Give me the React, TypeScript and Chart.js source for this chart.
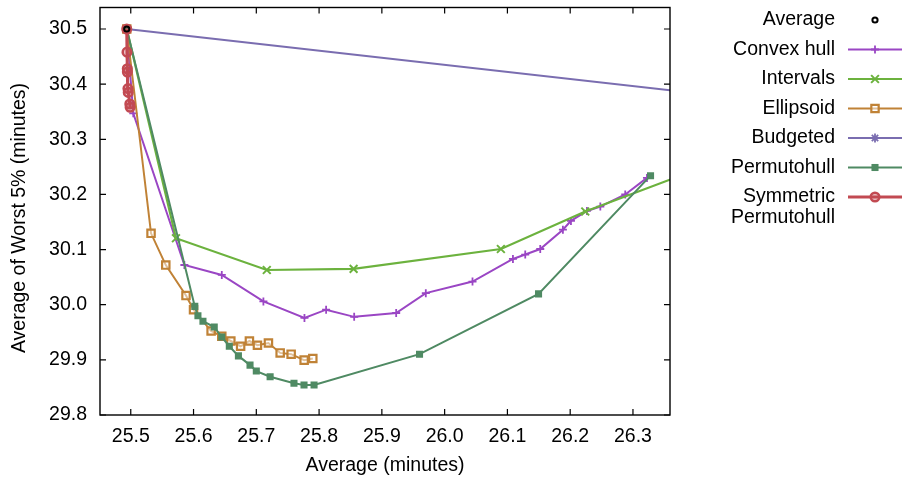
import React, { useEffect, useRef } from 'react';
import { Chart, registerables } from 'chart.js';
import { drawPoint } from 'chart.js/helpers';

Chart.register(...registerables);

// ---- tick labels ----
const xTicks = [25.5, 25.6, 25.7, 25.8, 25.9, 26.0, 26.1, 26.2, 26.3];
const yTicks = [29.8, 29.9, 30.0, 30.1, 30.2, 30.3, 30.4, 30.5];

// ---- series ----
const averageX = [25.4936];
const averageY = [30.5];

const convexX = [25.4936, 25.504, 25.5854, 25.645, 25.7113, 25.7767, 25.8112, 25.8559, 25.9228, 25.970, 26.0444, 26.1088, 26.1284, 26.1523, 26.1884, 26.2012, 26.2267, 26.248, 26.2877, 26.3223];
const convexY = [30.5, 30.347, 30.072, 30.054, 30.006, 29.976, 29.991, 29.978, 29.985, 30.021, 30.042, 30.083, 30.091, 30.101, 30.136, 30.152, 30.170, 30.178, 30.200, 30.230];

const intervalsX = [25.4936, 25.572, 25.7167, 25.855, 26.0896, 26.224, 26.5];
const intervalsY = [30.5, 30.1205, 30.063, 30.065, 30.101, 30.169, 30.287];

const ellipsoidX = [25.4936, 25.5323, 25.5558, 25.588, 25.600, 25.628, 25.645, 25.6594, 25.675, 25.689, 25.7018, 25.7193, 25.738, 25.7555, 25.7762, 25.790];
const ellipsoidY = [30.5, 30.1295, 30.0719, 30.0166, 29.9908, 29.9523, 29.9427, 29.9342, 29.9247, 29.9342, 29.9265, 29.9306, 29.9126, 29.9103, 29.8995, 29.9025];

const budgetedX = [25.4936, 26.6];
const budgetedY = [30.5, 30.358];

const permutoX = [25.4936, 25.602, 25.607, 25.615, 25.633, 25.645, 25.657, 25.6715, 25.690, 25.700, 25.722, 25.760, 25.776, 25.792, 25.960, 26.1496, 26.328];
const permutoY = [30.5, 29.997, 29.980, 29.970, 29.9595, 29.9414, 29.9247, 29.9072, 29.8905, 29.8797, 29.8694, 29.8575, 29.8544, 29.8544, 29.9103, 30.0196, 30.234];

const symX = [25.4936, 25.4940, 25.4945, 25.4946, 25.4955, 25.4960, 25.4985, 25.4990];
const symY = [30.5, 30.458, 30.428, 30.422, 30.392, 30.385, 30.364, 30.358];

const FONT_FAMILY = '"Liberation Sans", Arial, Helvetica, sans-serif';
const FONT_SIZE = 19.5;

function pts(xs: number[], ys: number[]) {
  return xs.map((x, i) => ({ x, y: ys[i] }));
}

const decorPlugin = {
  id: 'gnuplotDecor',
  afterDraw(chart: any) {
    const { ctx, chartArea: a, scales } = chart;
    ctx.save();
    // frame
    ctx.strokeStyle = '#000';
    ctx.lineWidth = 1.4;
    ctx.strokeRect(a.left, a.top, a.right - a.left, a.bottom - a.top);
    // inward ticks, mirrored
    const tl = 6;
    ctx.lineWidth = 1.2;
    ctx.beginPath();
    for (const v of xTicks) {
      const px = scales.x.getPixelForValue(v);
      ctx.moveTo(px, a.bottom); ctx.lineTo(px, a.bottom - tl);
      ctx.moveTo(px, a.top); ctx.lineTo(px, a.top + tl);
    }
    for (const v of yTicks) {
      const py = scales.y.getPixelForValue(v);
      ctx.moveTo(a.left, py); ctx.lineTo(a.left + tl, py);
      ctx.moveTo(a.right, py); ctx.lineTo(a.right - tl, py);
    }
    ctx.stroke();

    // axis titles
    ctx.font = `${FONT_SIZE}px ${FONT_FAMILY}`;
    ctx.fillStyle = '#000';
    ctx.textAlign = 'center';
    ctx.textBaseline = 'middle';
    ctx.fillText('Average (minutes)', (a.left + a.right) / 2, 466);
    ctx.save();
    ctx.translate(20, 218);
    ctx.rotate(-Math.PI / 2);
    ctx.fillText('Average of Worst 5% (minutes)', 0, 0);
    ctx.restore();

    // legend (key)
    const textRight = 835;
    const lineL = 848;
    const lineR = 906;
    const markX = 875;
    const rowY0 = 20;
    const rowStep = 29.5;
    chart.data.datasets.forEach((ds: any, i: number) => {
      const y = rowY0 + i * rowStep;
      const labels: string[] = Array.isArray(ds.keyLabel) ? ds.keyLabel : [ds.label];
      ctx.fillStyle = '#000';
      ctx.textAlign = 'right';
      ctx.textBaseline = 'middle';
      labels.forEach((t, k) => ctx.fillText(t, textRight, y + k * 21));
      if (ds.showLine) {
        ctx.strokeStyle = ds.borderColor;
        ctx.lineWidth = ds.borderWidth;
        ctx.beginPath();
        ctx.moveTo(lineL, y);
        ctx.lineTo(lineR, y);
        ctx.stroke();
      }
      ctx.strokeStyle = ds.pointBorderColor;
      ctx.fillStyle = ds.pointBackgroundColor;
      ctx.lineWidth = ds.pointBorderWidth;
      drawPoint(ctx, {
        pointStyle: ds.pointStyle,
        radius: ds.pointRadius,
        rotation: 0,
        borderWidth: ds.pointBorderWidth,
      } as any, markX, y);
    });
    ctx.restore();
  },
};

export default function App() {
  const ref = useRef<HTMLCanvasElement | null>(null);

  useEffect(() => {
    if (!ref.current) return;
    const purple = '#9a46c4';
    const green = '#6cb23e';
    const orange = '#c08236';
    const slate = '#7a6db0';
    const dgreen = '#4f8a63';
    const red = '#c24a52';

    const datasets: any[] = [
      {
        label: 'Average', data: pts(averageX, averageY), showLine: false,
        pointStyle: 'circle', pointRadius: 2.6, pointBorderWidth: 2,
        pointBorderColor: '#000', pointBackgroundColor: 'rgba(0,0,0,0)',
        borderColor: '#000', borderWidth: 0, order: 0,
      },
      {
        label: 'Convex hull', data: pts(convexX, convexY), showLine: true,
        borderColor: purple, borderWidth: 2,
        pointStyle: 'cross', pointRadius: 4, pointBorderWidth: 1.8,
        pointBorderColor: purple, pointBackgroundColor: purple, order: 6,
      },
      {
        label: 'Intervals', data: pts(intervalsX, intervalsY), showLine: true,
        borderColor: green, borderWidth: 2.2,
        pointStyle: 'crossRot', pointRadius: 5.5, pointBorderWidth: 2,
        pointBorderColor: green, pointBackgroundColor: green, order: 5,
      },
      {
        label: 'Ellipsoid', data: pts(ellipsoidX, ellipsoidY), showLine: true,
        borderColor: orange, borderWidth: 2,
        pointStyle: 'rect', pointRadius: 5.2, pointBorderWidth: 2.2,
        pointBorderColor: orange, pointBackgroundColor: 'rgba(255,255,255,0.5)', order: 4,
      },
      {
        label: 'Budgeted', data: pts(budgetedX, budgetedY), showLine: true,
        borderColor: slate, borderWidth: 2.2,
        pointStyle: 'star', pointRadius: 4.5, pointBorderWidth: 1.8,
        pointBorderColor: slate, pointBackgroundColor: slate, order: 3,
      },
      {
        label: 'Permutohull', data: pts(permutoX, permutoY), showLine: true,
        borderColor: dgreen, borderWidth: 2,
        pointStyle: 'rect', pointRadius: 5, pointBorderWidth: 0,
        pointBorderColor: dgreen, pointBackgroundColor: dgreen, order: 2,
      },
      {
        label: 'Symmetric Permutohull', keyLabel: ['Symmetric', 'Permutohull'],
        data: pts(symX, symY), showLine: true,
        borderColor: red, borderWidth: 3,
        pointStyle: 'circle', pointRadius: 4.3, pointBorderWidth: 2.5,
        pointBorderColor: red, pointBackgroundColor: 'rgba(194,74,82,0.35)', order: 1,
      },
    ];

    const tickFont = { family: FONT_FAMILY, size: FONT_SIZE };
    const zeroPad = (s: any) => { s.paddingTop = 0; s.paddingBottom = 0; s.paddingLeft = 0; s.paddingRight = 0; };

    const chart = new Chart(ref.current, {
      type: 'scatter',
      data: { datasets },
      options: {
        responsive: false,
        animation: false,
        devicePixelRatio: 1,
        layout: { padding: { left: 0, right: 232, top: 5, bottom: 0 } },
        plugins: { legend: { display: false }, tooltip: { enabled: false } },
        elements: { line: { tension: 0 } },
        scales: {
          x: {
            type: 'linear', min: 25.451, max: 26.359,
            grid: { display: false, drawTicks: false },
            border: { display: false },
            ticks: {
              font: tickFont, color: '#000', padding: 10, maxRotation: 0,
              autoSkip: false,
              callback: (v: any) => Number(v).toFixed(1),
            },
            afterBuildTicks: (s: any) => { s.ticks = xTicks.map((v) => ({ value: v })); },
            afterFit: (s: any) => { s.height = 67; zeroPad(s); },
          },
          y: {
            type: 'linear', min: 29.8, max: 30.539,
            grid: { display: false, drawTicks: false },
            border: { display: false },
            ticks: {
              font: tickFont, color: '#000', padding: 13,
              autoSkip: false,
              callback: (v: any) => Number(v).toFixed(1),
            },
            afterBuildTicks: (s: any) => { s.ticks = yTicks.map((v) => ({ value: v })); },
            afterFit: (s: any) => { s.width = 100; zeroPad(s); },
          },
        },
      } as any,
      plugins: [decorPlugin],
    });
    return () => chart.destroy();
  }, []);

  return (
    <div style={{ position: 'fixed', left: 0, top: 0, width: 902, height: 482, background: '#fff' }}>
      <canvas ref={ref} width={902} height={482} style={{ width: 902, height: 482, display: 'block' }} />
    </div>
  );
}
